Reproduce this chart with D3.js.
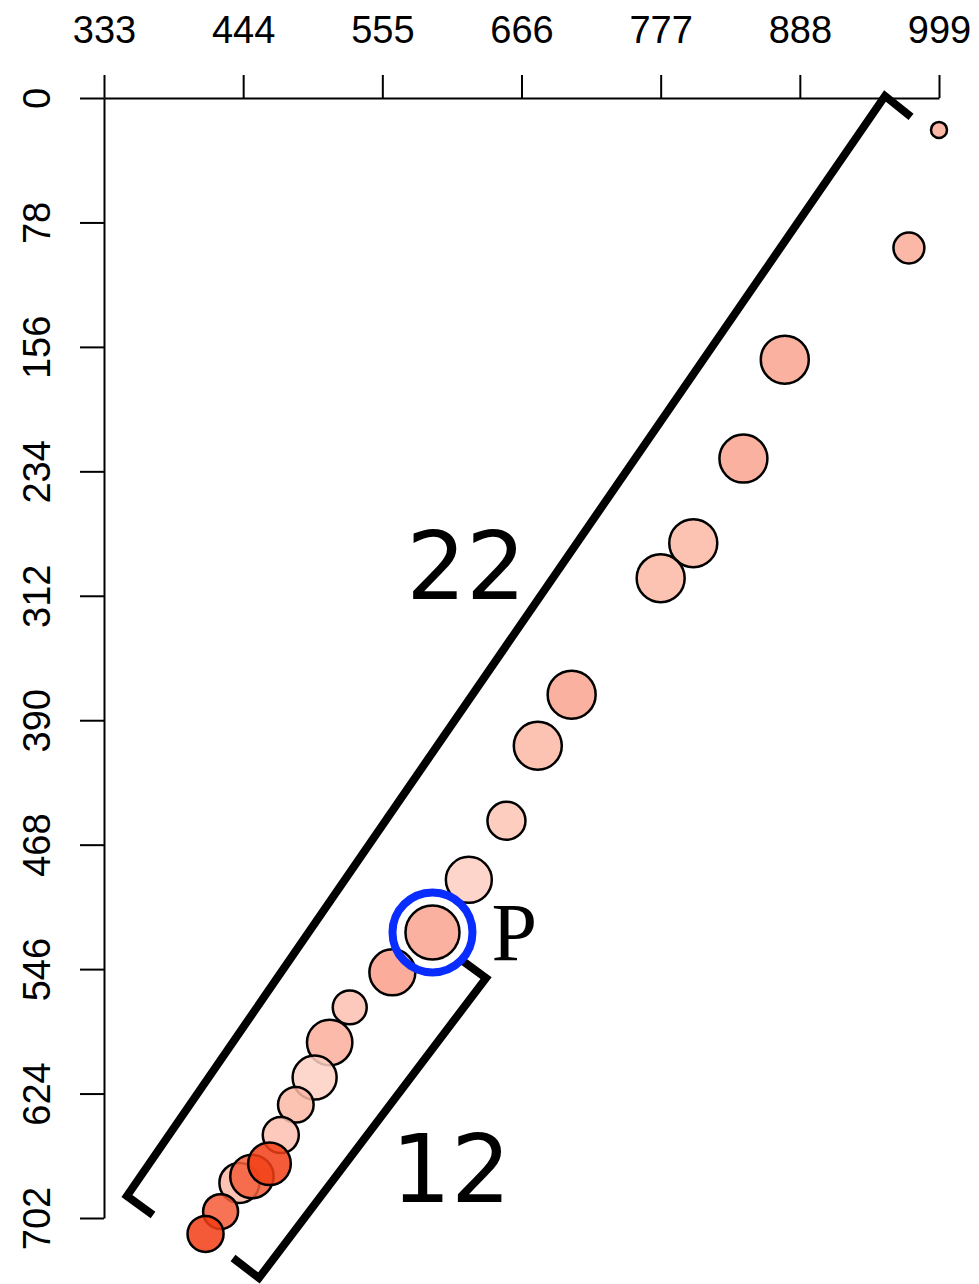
<!DOCTYPE html>
<html>
<head>
<meta charset="utf-8">
<script src="https://cdn.jsdelivr.net/npm/d3@7"></script>
<style>
  html, body { margin: 0; padding: 0; background: #ffffff; }
  svg { display: block; }
</style>
</head>
<body>
<svg id="chart" width="979" height="1284"></svg>
<script>
// ---------- data ----------
const xTicks = [333, 444, 555, 666, 777, 888, 999];
const yTicks = [0, 78, 156, 234, 312, 390, 468, 546, 624, 702];

// point positions (data units), drawing order
const xValues = [999, 975, 876, 843, 803, 777, 706, 679, 654, 624, 595, 563, 529, 513, 501, 486, 474, 441, 451, 465, 426, 414];
const yValues = [20, 94, 164, 226, 279, 301, 374, 406, 453, 490, 523, 548, 570, 592, 614, 631, 650, 680, 676, 668, 698, 712];
// bubble magnitude (area-encoded)
const magnitudes = [4, 15, 36, 36, 36, 36, 36, 36, 22.6, 33, 45.6, 33, 18, 32.2, 30.3, 19.8, 20.3, 25, 29.4, 28.4, 19.1, 20.3];
// colour intensity (0 = pale, 1 = deep red-orange)
const intensities = [0.28, 0.28, 0.33, 0.33, 0.2, 0.2, 0.33, 0.2, 0.12, 0.06, 0.33, 0.36, 0.15, 0.26, 0.05, 0.2, 0.15, 0.2, 0.77, 0.97, 0.79, 0.98];

const highlightIndex = 10;        // point labelled "P"
const highlightLabel = "P";

// bracket annotations in data units: [tickEnd, corner, corner, tickEnd]
const bracket22 = [[372.1, 700.1], [351.3, 688.2], [955.9, -1.25], [976.7, 11.9]];
const bracket12 = [[435.9, 727.1], [456.6, 739.6], [637.7, 551.6], [617.0, 539.7]];
const bracketLabels = [
  { text: "22", x: 621.7, y: 314 },
  { text: "12", x: 609.8, y: 692 }
];

// ---------- layout ----------
const svg = d3.select("#chart");
const x = d3.scaleLinear().domain([333, 999]).range([104, 939]);
const y = d3.scaleLinear().domain([0, 702]).range([98, 1218]);
const r = d3.scaleSqrt().domain([0, 100]).range([0, 40]);
const color = d3.scaleLinear().domain([0, 1]).range(["#fed7cc", "#f23a10"]).interpolate(d3.interpolateRgb);

// ---------- axes ----------
const xAxis = d3.axisTop(x).tickValues(xTicks).tickSize(23).tickSizeOuter(0).tickPadding(32).tickFormat(d3.format("d"));
const gx = svg.append("g").attr("transform", `translate(0,${y(0)})`).call(xAxis);
gx.selectAll("text").attr("font-family", "'Liberation Sans', Arial, sans-serif").attr("font-size", 38).attr("fill", "#000");
gx.selectAll("line").attr("stroke", "#000").attr("stroke-width", 2);
gx.select(".domain").attr("stroke", "#000").attr("stroke-width", 2);

const yAxis = d3.axisLeft(y).tickValues(yTicks).tickSize(24).tickSizeOuter(0).tickFormat(d3.format("d"));
const gy = svg.append("g").attr("transform", `translate(${x(333)},0)`).call(yAxis);
gy.selectAll("line").attr("stroke", "#000").attr("stroke-width", 2);
gy.select(".domain").attr("stroke", "#000").attr("stroke-width", 2);
gy.selectAll("text")
  .attr("font-family", "'Liberation Sans', Arial, sans-serif")
  .attr("font-size", 38).attr("fill", "#000")
  .attr("x", 0).attr("y", -54).attr("dy", 0)
  .attr("text-anchor", "middle")
  .attr("transform", "rotate(-90)");

// ---------- brackets ----------
const line = d3.line().x(d => x(d[0])).y(d => y(d[1]));
[bracket22, bracket12].forEach(b => {
  svg.append("path").attr("d", line(b))
    .attr("fill", "none").attr("stroke", "#000").attr("stroke-width", 8)
    .attr("stroke-linejoin", "miter").attr("stroke-linecap", "butt");
});
svg.selectAll(".blabel").data(bracketLabels).enter().append("text")
  .attr("class", "blabel")
  .attr("x", d => x(d.x)).attr("y", d => y(d.y))
  .attr("text-anchor", "middle")
  .attr("font-family", "'DejaVu Sans', sans-serif")
  .attr("font-size", 94).attr("fill", "#000")
  .text(d => d.text);

// ---------- points ----------
const pts = xValues.map((v, i) => ({ x: v, y: yValues[i], m: magnitudes[i], c: intensities[i] }));
svg.append("g").selectAll("circle").data(pts).enter().append("circle")
  .attr("cx", d => x(d.x)).attr("cy", d => y(d.y)).attr("r", d => r(d.m))
  .attr("fill", d => color(d.c)).attr("fill-opacity", 0.85)
  .attr("stroke", "#000").attr("stroke-width", 2.5);

// ---------- highlight ----------
const hp = pts[highlightIndex];
svg.append("circle")
  .attr("cx", x(hp.x)).attr("cy", y(hp.y)).attr("r", 40)
  .attr("fill", "none").attr("stroke", "#0a2dff").attr("stroke-width", 8);
svg.append("text")
  .attr("x", x(hp.x) + 59).attr("y", y(hp.y) + 28)
  .attr("font-family", "'Liberation Serif', 'Times New Roman', serif")
  .attr("font-size", 82).attr("fill", "#000")
  .text(highlightLabel);
</script>
</body>
</html>
